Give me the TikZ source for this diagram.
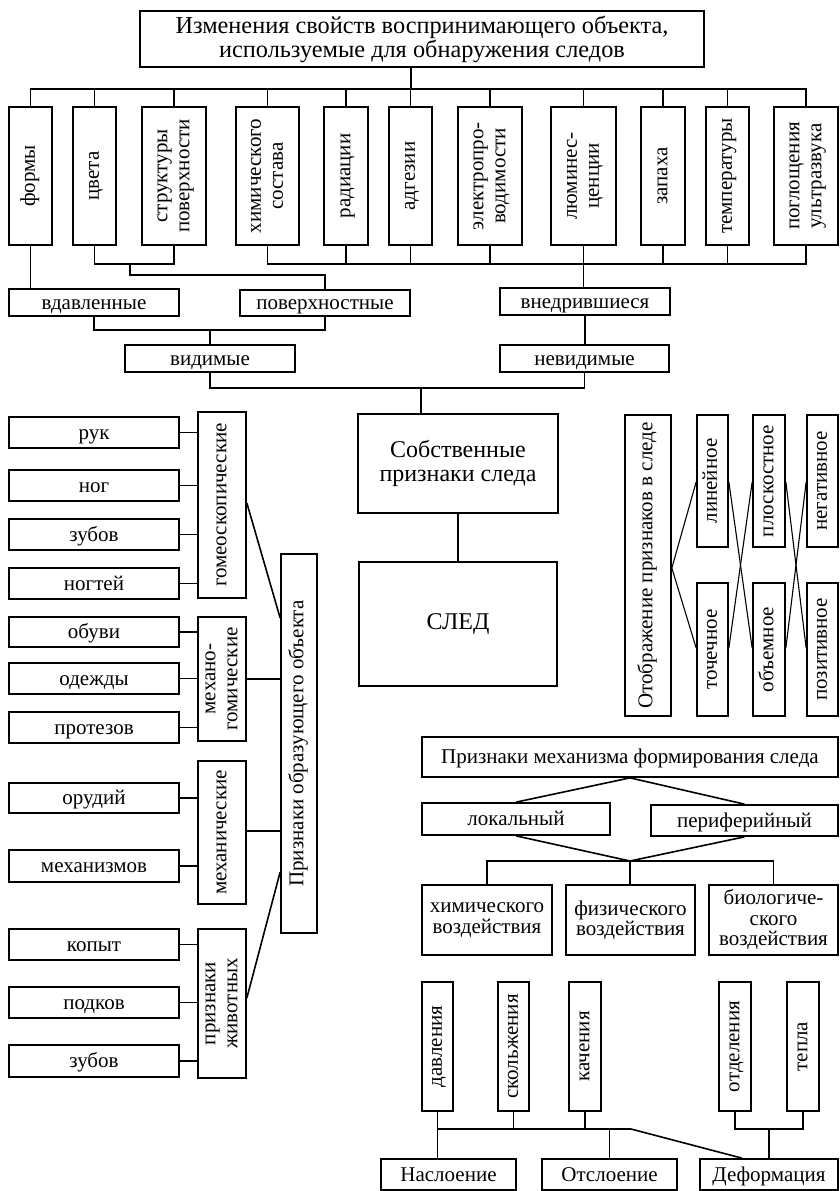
\documentclass[tikz,border=0pt]{standalone}
\usepackage{fontspec}
\setmainfont{Liberation Serif}
\usepackage{graphicx}
\newcommand\vt[1]{\rotatebox{90}{\begin{tabular}{@{}c@{}}#1\end{tabular}}}
\newcommand\mybox[7]{\node[box,#1,minimum width={(#5-#3)*1pt},minimum height={(#6-#4)*1pt}] (#2) at ({(#3+#5)/2},{(#4+#6)/2}) {#7};}
\tikzset{
  box/.style={draw,line width=1.7pt,inner sep=0pt,font=\fontsize{21}{22}\selectfont},
  hz/.style={text height=15.5pt,text depth=2pt},
  ml/.style={align=center},
  ln/.style={line width=1.6pt},
  thinln/.style={line width=1.1pt}
}
\begin{document}
\begin{tikzpicture}[x=1pt,y=-1pt]
\useasboundingbox (0,0) rectangle (839,1191);
% top
\mybox{ml,font=\fontsize{24.3}{24}\selectfont}{title}{140}{11}{704}{67}{Изменения свойств воспринимающего объекта,\\используемые для обнаружения следов}
\mybox{}{f1}{9}{107}{52}{245}{\vt{формы}}
\mybox{}{f2}{73}{107}{116}{245}{\vt{цвета}}
\mybox{}{f3}{142}{107}{206}{245}{\vt{структуры\\поверхности}}
\mybox{}{f4}{236}{107}{299}{245}{\vt{химического\\состава}}
\mybox{}{f5}{324}{107}{368}{245}{\vt{радиации}}
\mybox{}{f6}{389}{107}{432}{245}{\vt{адгезии}}
\mybox{}{f7}{458}{107}{522}{245}{\vt{электропро-\\водимости}}
\mybox{}{f8}{551}{107}{616}{245}{\vt{люминес-\\ценции}}
\mybox{}{f9}{641}{107}{685}{245}{\vt{запаха}}
\mybox{}{f10}{706}{107}{749}{245}{\vt{температуры}}
\mybox{}{f11}{774}{107}{838}{245}{\vt{поглощения\\ультразвука}}
\mybox{hz}{vd}{9}{289}{179}{316}{вдавленные}
\mybox{hz}{pov}{240}{290}{410}{316}{поверхностные}
\mybox{hz}{vn}{500}{288}{670}{315}{внедрившиеся}
\mybox{hz}{vid}{125}{345}{295}{372}{видимые}
\mybox{hz}{nev}{500}{345}{669}{372}{невидимые}
\mybox{ml,font=\fontsize{24}{24}\selectfont}{sob}{358}{414}{558}{513}{Собственные\\признаки следа}
\mybox{font=\fontsize{24}{26}\selectfont}{sled}{359}{562}{557}{686}{СЛЕД}
% top connectors
\coordinate (tb) at (411,89);
\draw[ln] (title.south -| tb) -- (tb);
\draw[ln] (f1.north) -- (f1.north |- tb) -- (f11.north |- tb) -- (f11.north);
\foreach \n in {f2,f3,f4,f5,f6,f7,f8,f9,f10} \draw[ln] (\n.north) -- (\n.north |- tb);
\coordinate (bl) at (130,264);
\draw[ln] (f2.south) -- (f2.south |- bl) -- (f3.south |- bl) -- (f3.south);
\draw[ln] (bl) -- ++(0,11) -| (pov.north);
\coordinate (br) at (584,264);
\draw[ln] (f4.south) -- (f4.south |- br) -- (f11.south |- br) -- (f11.south);
\foreach \n in {f5,f6,f7,f9,f10} \draw[ln] (\n.south) -- (\n.south |- br);
\draw[ln] (f8.south) -- (f8.south |- vn.north);
\draw[ln] (f1.south) -- (f1.south |- vd.north);
\coordinate (jv) at (210,330);
\draw[ln] (vd.south) -- (vd.south |- jv) -- (pov.south |- jv) -- (pov.south);
\draw[ln] (jv) -- (vid.north);
\draw[ln] (vn.south) -- (vn.south |- nev.north);
\coordinate (js) at (421,388);
\draw[ln] (vid.south) -- (vid.south |- js) -- (nev.south |- js) -- (nev.south);
\draw[ln] (js) -- (js |- sob.north);
\draw[ln] (sob.south) -- (sob.south |- sled.north);
% left
\mybox{hz}{ruk}{9}{417}{179}{448}{рук}
\mybox{hz}{nog}{9}{470}{179}{501}{ног}
\mybox{hz}{zub}{9}{519}{179}{550}{зубов}
\mybox{hz}{nogt}{9}{568}{179}{599}{ногтей}
\mybox{}{gom}{198}{412}{246}{598}{\vt{гомеоскопические}}
\mybox{hz}{obu}{9}{617}{179}{647}{обуви}
\mybox{hz}{ode}{9}{663}{179}{694}{одежды}
\mybox{hz}{pro}{9}{712}{179}{743}{протезов}
\mybox{}{mg}{198}{617}{246}{741}{\vt{механо-\\гомические}}
\mybox{hz}{oru}{9}{783}{179}{813}{орудий}
\mybox{hz}{mex}{9}{850}{179}{882}{механизмов}
\mybox{}{mch}{198}{761}{246}{904}{\vt{механические}}
\mybox{hz}{kop}{9}{929}{179}{960}{копыт}
\mybox{hz}{pod}{9}{987}{179}{1018}{подков}
\mybox{hz}{zubb}{9}{1045}{179}{1077}{зубов}
\mybox{}{anim}{198}{929}{246}{1078}{\vt{признаки\\животных}}
\mybox{}{priz}{281}{554}{317}{933}{\vt{Признаки образующего объекта}}
\foreach \n in {ruk,nog,zub,nogt} \draw[ln] (\n.east) -- (\n.east -| gom.west);
\foreach \n in {obu,ode,pro} \draw[ln] (\n.east) -- (\n.east -| mg.west);
\foreach \n in {oru,mex} \draw[ln] (\n.east) -- (\n.east -| mch.west);
\foreach \n in {kop,pod,zubb} \draw[ln] (\n.east) -- (\n.east -| anim.west);
\draw[ln] (gom.east |- 0,503) -- (priz.west |- 0,618);
\draw[ln] (mg.east) -- (mg.east -| priz.west);
\draw[ln] (mch.east |- 0,831) -- (priz.west |- 0,831);
\draw[ln] (anim.east |- 0,998) -- (priz.west |- 0,872);
% right middle
\mybox{}{otob}{625}{415}{671}{716}{\vt{Отображение признаков в следе}}
\mybox{}{lin}{697}{415}{728}{547}{\vt{линейное}}
\mybox{}{plos}{753}{415}{785}{547}{\vt{плоскостное}}
\mybox{}{neg}{807}{415}{838}{547}{\vt{негативное}}
\mybox{}{toch}{697}{583}{728}{716}{\vt{точечное}}
\mybox{}{obj}{753}{583}{785}{716}{\vt{объемное}}
\mybox{}{poz}{807}{583}{838}{716}{\vt{позитивное}}
\draw[thinln] (lin.west |- 0,482) -- (otob.east |- 0,568) -- (toch.west |- 0,648);
\draw[thinln] (lin.east |- 0,482) -- (obj.west |- 0,648);
\draw[thinln] (toch.east |- 0,648) -- (plos.west |- 0,482);
\draw[thinln] (plos.east |- 0,482) -- (poz.west |- 0,648);
\draw[thinln] (obj.east |- 0,648) -- (neg.west |- 0,482);
% mechanism
\mybox{hz}{mech}{422}{737}{838}{777}{Признаки механизма формирования следа}
\mybox{hz}{lok}{422}{803}{610}{835}{локальный}
\mybox{hz}{per}{651}{805}{838}{836}{периферийный}
\mybox{ml,font=\fontsize{21}{20.5}\selectfont}{chem}{422}{885}{552}{955}{химического\\воздействия}
\mybox{ml,font=\fontsize{21}{20.5}\selectfont}{fiz}{566}{885}{695}{955}{физического\\воздействия}
\mybox{ml,font=\fontsize{21}{20.5}\selectfont}{bio}{709}{885}{838}{955}{биологиче-\\ского\\воздействия}
\draw[ln] (lok.north) -- (mech.south) -- (per.north);
\coordinate (mb) at (630,861);
\draw[ln] (lok.south) -- (mb) -- (per.south);
\draw[ln] (chem.north) -- (chem.north |- mb) -- (bio.north |- mb) -- (bio.north);
\draw[ln] (mb) -- (mb |- fiz.north);
% bottom
\mybox{}{dav}{422}{982}{453}{1111}{\vt{давления}}
\mybox{}{sko}{498}{982}{529}{1111}{\vt{скольжения}}
\mybox{}{kach}{569}{982}{601}{1111}{\vt{качения}}
\mybox{}{otd}{719}{982}{751}{1111}{\vt{отделения}}
\mybox{}{tep}{787}{982}{819}{1111}{\vt{тепла}}
\mybox{hz}{nasl}{381}{1159}{516}{1190}{Наслоение}
\mybox{hz}{otsl}{542}{1159}{677}{1190}{Отслоение}
\mybox{hz}{def}{700}{1159}{838}{1190}{Деформация}
\coordinate (bb) at (438,1129);
\coordinate (bd) at (631,1129);
\draw[ln] (dav.south) -- (dav.south |- nasl.north);
\draw[ln] (dav.south |- bb) -- (bd) -- ([xshift=-27pt]def.north);
\draw[ln] (sko.south) -- (sko.south |- bb);
\draw[ln] (kach.south) -- (kach.south |- bb);
\draw[ln] (otsl.north |- bb) -- (otsl.north);
\coordinate (bo) at (769,1129);
\draw[ln] (otd.south) -- (otd.south |- bo) -- (tep.south |- bo) -- (tep.south);
\draw[ln] (bo) -- (bo |- def.north);
\end{tikzpicture}
\end{document}
